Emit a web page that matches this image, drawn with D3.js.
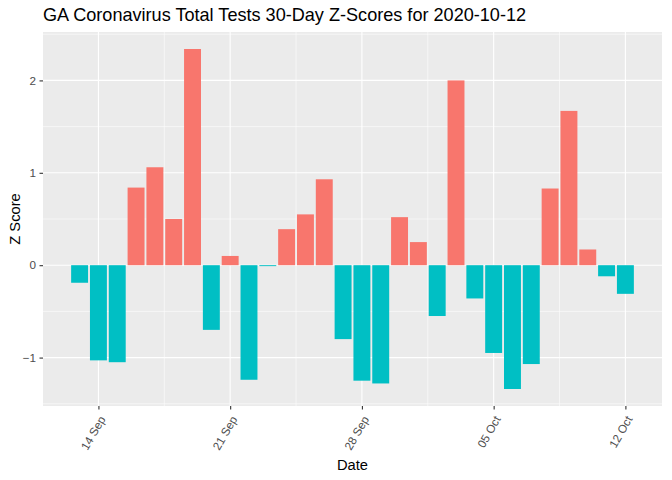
<!DOCTYPE html>
<html>
<head>
<meta charset="utf-8">
<script src="https://cdn.jsdelivr.net/npm/d3@7"></script>
<style>
  body { margin: 0; background: #fff; }
  text { font-family: "Liberation Sans", Arial, sans-serif; }
</style>
</head>
<body>
<script>
// data
const startDate = "2020-09-13";
const zScores = [-0.19, -1.03, -1.05, 0.84, 1.06, 0.50, 2.34, -0.70, 0.10, -1.24,
  -0.01, 0.39, 0.55, 0.93, -0.80, -1.25, -1.28, 0.52, 0.25, -0.55,
  2.00, -0.36, -0.95, -1.34, -1.07, 0.83, 1.67, 0.17, -0.12, -0.31];
const tickDates = ["2020-09-14", "2020-09-21", "2020-09-28", "2020-10-05", "2020-10-12"];
const yTicks = [-1, 0, 1, 2];
const yMinor = [-1.5, -0.5, 0.5, 1.5, 2.5];

const width = 672, height = 480;
const day = 864e5;
const parse = d3.utcParse("%Y-%m-%d");
const t0 = parse(startDate);
const data = zScores.map((v, i) => ({date: new Date(+t0 + i * day), z: v}));

const svg = d3.select("body").append("svg")
  .attr("width", width)
  .attr("height", height);

const pLeft = 43, pRight = 662, pTop = 32, pBottom = 406;

// ggplot style 5% expansion of the continuous scales
const xmin = +data[0].date - 0.45 * day, xmax = +data[data.length - 1].date + 0.45 * day;
const xpad = (xmax - xmin) * 0.05;
const x = d3.scaleUtc()
  .domain([new Date(xmin - xpad), new Date(xmax + xpad)])
  .range([pLeft, pRight]);

const zext = d3.extent([0, ...zScores]);
const ypad = (zext[1] - zext[0]) * 0.05;
const y = d3.scaleLinear()
  .domain([zext[0] - ypad, zext[1] + ypad])
  .range([pBottom, pTop]);

svg.append("rect")
  .attr("x", pLeft).attr("y", pTop)
  .attr("width", pRight - pLeft).attr("height", pBottom - pTop)
  .attr("fill", "#EBEBEB");

const ticks = tickDates.map(parse);
const xMinor = d3.pairs(ticks).map(p => new Date((+p[0] + +p[1]) / 2));

// minor grid
svg.selectAll(".ymin").data(yMinor).join("line")
  .attr("x1", pLeft).attr("x2", pRight)
  .attr("y1", d => y(d)).attr("y2", d => y(d))
  .attr("stroke", "#fff").attr("stroke-width", 0.55);
svg.selectAll(".xmin").data(xMinor).join("line")
  .attr("y1", pTop).attr("y2", pBottom)
  .attr("x1", d => x(d)).attr("x2", d => x(d))
  .attr("stroke", "#fff").attr("stroke-width", 0.55);

// major grid
svg.selectAll(".ymaj").data(yTicks).join("line")
  .attr("x1", pLeft).attr("x2", pRight)
  .attr("y1", d => y(d)).attr("y2", d => y(d))
  .attr("stroke", "#fff").attr("stroke-width", 1.1);
svg.selectAll(".xmaj").data(ticks).join("line")
  .attr("y1", pTop).attr("y2", pBottom)
  .attr("x1", d => x(d)).attr("x2", d => x(d))
  .attr("stroke", "#fff").attr("stroke-width", 1.1);

// bars
const bw = x(new Date(+t0 + 0.9 * day)) - x(t0);
svg.selectAll(".bar").data(data).join("rect")
  .attr("x", d => x(d.date) - bw / 2)
  .attr("width", bw)
  .attr("y", d => y(Math.max(0, d.z)))
  .attr("height", d => Math.abs(y(d.z) - y(0)))
  .attr("fill", d => d.z > 0 ? "#F8766D" : "#00BFC4");

// y axis
const yAxis = svg.append("g")
  .attr("transform", `translate(${pLeft},0)`)
  .call(d3.axisLeft(y).tickValues(yTicks).tickSize(3.5).tickPadding(3.5).tickFormat(d3.format("d")));
yAxis.select(".domain").remove();
yAxis.selectAll("line").attr("stroke", "#333").attr("stroke-width", 1.1);
yAxis.selectAll("text").attr("fill", "#4D4D4D").attr("font-size", 11.7)
  .attr("font-family", "Liberation Sans, Arial, sans-serif");

// x axis
const xAxis = svg.append("g")
  .attr("transform", `translate(0,${pBottom})`)
  .call(d3.axisBottom(x).tickValues(ticks).tickSize(3.5).tickFormat(d3.utcFormat("%d %b")));
xAxis.select(".domain").remove();
xAxis.selectAll("line").attr("stroke", "#333").attr("stroke-width", 1.1);
xAxis.selectAll("text")
  .attr("fill", "#4D4D4D").attr("font-size", 11.7)
  .attr("font-family", "Liberation Sans, Arial, sans-serif")
  .attr("text-anchor", "end")
  .attr("dy", null).attr("y", 0)
  .attr("transform", "translate(7,13) rotate(-60)");

// titles
svg.append("text")
  .attr("x", pLeft).attr("y", 21)
  .attr("font-size", 18.1)
  .attr("fill", "#000")
  .text("GA Coronavirus Total Tests 30-Day Z-Scores for 2020-10-12");

svg.append("text")
  .attr("x", (pLeft + pRight) / 2).attr("y", 470)
  .attr("text-anchor", "middle")
  .attr("font-size", 14.7)
  .text("Date");

svg.append("text")
  .attr("transform", `translate(20,${(pTop + pBottom) / 2}) rotate(-90)`)
  .attr("text-anchor", "middle")
  .attr("font-size", 14.7)
  .text("Z Score");
</script>
</body>
</html>
